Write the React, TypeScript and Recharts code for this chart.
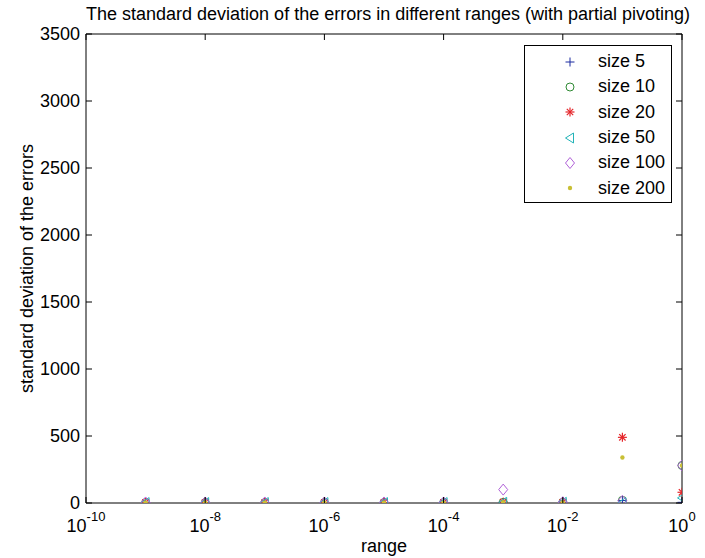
import { ScatterChart, Scatter, XAxis, YAxis, Legend } from "recharts";

// x positions: the tested ranges (log scale)
const ranges = [1e-9, 1e-8, 1e-7, 1e-6, 1e-5, 1e-4, 1e-3, 1e-2, 1e-1, 1];

// standard deviation of the errors per matrix size
const size5 = [3, 3, 3, 3, 3, 3, 4, 4, 18, 5];
const size10 = [3, 3, 3, 3, 3, 3, 5, 5, 20, 280];
const size20 = [3, 3, 3, 3, 3, 3, 6, 5, 490, 80];
const size50 = [3, 3, 3, 3, 3, 3, 5, 5, 2, 38];
const size100 = [4, 4, 4, 4, 4, 4, 100, 6, 16, 280];
const size200 = [3, 3, 3, 3, 3, 3, 6, 5, 340, 280];

const xTicks = [1e-10, 1e-8, 1e-6, 1e-4, 1e-2, 1];
const yTicks = [0, 500, 1000, 1500, 2000, 2500, 3000, 3500];

const FONT = "'Liberation Sans', Arial, sans-serif";
const FS = 18;
const TICK = 6;

type MarkerKind = "plus" | "circle" | "star" | "tri" | "diamond" | "dot";

const series: { name: string; values: number[]; color: string; marker: MarkerKind }[] = [
  { name: "size 5", values: size5, color: "#1b2aa0", marker: "plus" },
  { name: "size 10", values: size10, color: "#2f8a34", marker: "circle" },
  { name: "size 20", values: size20, color: "#e5262b", marker: "star" },
  { name: "size 50", values: size50, color: "#22b3b8", marker: "tri" },
  { name: "size 100", values: size100, color: "#b060d8", marker: "diamond" },
  { name: "size 200", values: size200, color: "#c8bf35", marker: "dot" },
];

function Marker({ kind, cx, cy, color }: { kind: MarkerKind; cx: number; cy: number; color: string }) {
  const s = 4.5;
  switch (kind) {
    case "plus":
      return (
        <g stroke={color} strokeWidth={1}>
          <line x1={cx - s} x2={cx + s} y1={cy} y2={cy} />
          <line x1={cx} x2={cx} y1={cy - s} y2={cy + s} />
        </g>
      );
    case "circle":
      return <circle cx={cx} cy={cy} r={4} fill="none" stroke={color} strokeWidth={1} />;
    case "star":
      return (
        <g stroke={color} strokeWidth={1.2}>
          <line x1={cx - s} x2={cx + s} y1={cy} y2={cy} />
          <line x1={cx} x2={cx} y1={cy - s} y2={cy + s} />
          <line x1={cx - 3.2} x2={cx + 3.2} y1={cy - 3.2} y2={cy + 3.2} />
          <line x1={cx - 3.2} x2={cx + 3.2} y1={cy + 3.2} y2={cy - 3.2} />
        </g>
      );
    case "tri":
      return (
        <polygon
          points={`${cx - 4.5},${cy} ${cx + 3.5},${cy - 5} ${cx + 3.5},${cy + 5}`}
          fill="none"
          stroke={color}
          strokeWidth={1}
        />
      );
    case "diamond":
      return (
        <polygon
          points={`${cx},${cy - 5.5} ${cx + 4.5},${cy} ${cx},${cy + 5.5} ${cx - 4.5},${cy}`}
          fill="none"
          stroke={color}
          strokeWidth={1}
        />
      );
    default:
      return <circle cx={cx} cy={cy} r={2.2} fill={color} />;
  }
}

const BottomTick = (props: any) => {
  const { x, y, payload } = props;
  const exp = Math.round(Math.log10(payload.value));
  return (
    <g>
      <line x1={x} x2={x} y1={y} y2={y - TICK} stroke="#000" />
      <text x={x} y={y + 29} textAnchor="middle" fontSize={FS} fill="#000" fontFamily={FONT}>
        <tspan>10</tspan>
        <tspan dy={-11} fontSize={13}>
          {exp}
        </tspan>
      </text>
    </g>
  );
};

const TopTick = (props: any) => {
  const { x, y } = props;
  return <line x1={x} x2={x} y1={y} y2={y + TICK} stroke="#000" />;
};

const LeftTick = (props: any) => {
  const { x, y, payload } = props;
  return (
    <g>
      <line x1={x} x2={x + TICK} y1={y} y2={y} stroke="#000" />
      <text x={x - 6} y={y + 6} textAnchor="end" fontSize={FS} fill="#000" fontFamily={FONT}>
        {payload.value}
      </text>
    </g>
  );
};

const RightTick = (props: any) => {
  const { x, y } = props;
  return <line x1={x} x2={x - TICK} y1={y} y2={y} stroke="#000" />;
};

function LegendBox() {
  return (
    <div
      style={{
        width: 148,
        height: 158,
        border: "1px solid #000",
        background: "#fff",
        boxSizing: "border-box",
        paddingTop: 3,
        fontFamily: FONT,
        fontSize: FS,
        color: "#000",
      }}
    >
      {series.map((s) => (
        <div key={s.name} style={{ display: "flex", alignItems: "center", height: 25.3 }}>
          <svg width={73} height={20} style={{ flex: "none" }}>
            <Marker kind={s.marker} cx={45} cy={10} color={s.color} />
          </svg>
          <span>{s.name}</span>
        </div>
      ))}
    </div>
  );
}

export default function App() {
  return (
    <div
      style={{
        position: "absolute",
        left: 0,
        top: 0,
        width: 705,
        height: 558,
        background: "#fff",
        fontFamily: FONT,
      }}
    >
      <div
        style={{
          position: "absolute",
          left: 0,
          top: 4,
          width: 776,
          textAlign: "center",
          fontSize: FS,
          color: "#000",
          whiteSpace: "nowrap",
        }}
      >
        The standard deviation of the errors in different ranges (with partial pivoting)
      </div>
      <ScatterChart width={705} height={558} margin={{ top: 33, right: 22, bottom: 0, left: 0 }}>
        <XAxis
          xAxisId="b"
          dataKey="x"
          type="number"
          scale="log"
          domain={[1e-10, 1]}
          allowDataOverflow
          ticks={xTicks}
          interval={0}
          height={55}
          tickSize={0}
          tickMargin={0}
          tickLine={false}
          tick={<BottomTick />}
          stroke="#000"
          label={{ value: "range", position: "insideBottom", offset: 6, fontSize: FS, fill: "#000" }}
        />
        <XAxis
          xAxisId="t"
          orientation="top"
          dataKey="x"
          type="number"
          scale="log"
          domain={[1e-10, 1]}
          allowDataOverflow
          ticks={xTicks}
          interval={0}
          height={1}
          tickSize={0}
          tickMargin={0}
          tickLine={false}
          tick={<TopTick />}
          stroke="#000"
        />
        <YAxis
          yAxisId="l"
          dataKey="y"
          type="number"
          domain={[0, 3500]}
          allowDataOverflow
          ticks={yTicks}
          interval={0}
          width={86}
          tickSize={0}
          tickMargin={0}
          tickLine={false}
          tick={<LeftTick />}
          stroke="#000"
          label={{
            value: "standard deviation of the errors",
            angle: -90,
            position: "insideLeft",
            offset: 27,
            fontSize: FS,
            fill: "#000",
            style: { textAnchor: "middle" },
          }}
        />
        <YAxis
          yAxisId="r"
          orientation="right"
          dataKey="y"
          type="number"
          domain={[0, 3500]}
          allowDataOverflow
          ticks={yTicks}
          interval={0}
          width={1}
          tickSize={0}
          tickMargin={0}
          tickLine={false}
          tick={<RightTick />}
          stroke="#000"
        />
        {series.map((s) => (
          <Scatter
            key={s.name}
            name={s.name}
            xAxisId="b"
            yAxisId="l"
            data={ranges.map((r, i) => ({ x: r, y: s.values[i] }))}
            isAnimationActive={false}
            shape={(p: any) => <Marker kind={s.marker} cx={p.cx} cy={p.cy} color={s.color} />}
          />
        ))}
        {/* invisible copy so the top/right box axes get a scale */}
        <Scatter
          xAxisId="t"
          yAxisId="r"
          data={ranges.map((r, i) => ({ x: r, y: size5[i] }))}
          isAnimationActive={false}
          legendType="none"
          shape={() => <g />}
        />
        <Legend
          layout="vertical"
          align="center"
          verticalAlign="middle"
          content={() => <LegendBox />}
          wrapperStyle={{ left: 524, top: 45, width: 148, height: 158 }}
        />
      </ScatterChart>
    </div>
  );
}
